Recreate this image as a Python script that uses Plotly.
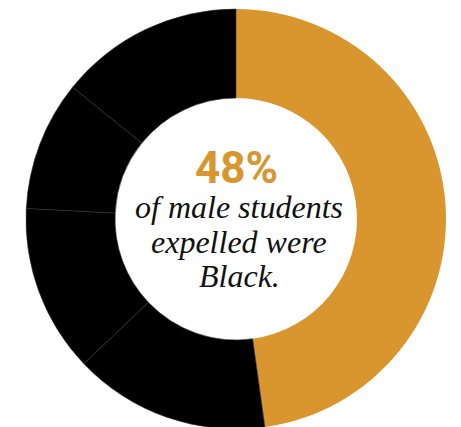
import plotly.graph_objects as go

groups = ["Black", "White", "Hispanic", "Two or more races", "Other"]
shares = [47.8, 15.1, 12.9, 10.0, 14.2]
slice_colors = ["#D9962F", "#000000", "#000000", "#000000", "#000000"]

headline = "48%"
caption_lines = ["of male students", "expelled were", "Black."]

W, H = 461, 427
# page body has an 8px margin, so figure coords = screen coords - 8
cx, cy, R = 228, 211, 210

fig = go.Figure(go.Pie(
    labels=groups,
    values=shares,
    sort=False,
    direction="clockwise",
    rotation=0,
    hole=0.576,
    marker=dict(colors=slice_colors,
                line=dict(color=["#D9962F", "#333333", "#333333", "#333333", "#333333"],
                          width=[0, 0.6, 0.6, 0.6, 0.6])),
    textinfo="none",
    hoverinfo="label+percent",
    showlegend=False,
    domain=dict(x=[(cx - R) / W, (cx + R) / W], y=[1 - (cy + R) / H, 1 - (cy - R) / H]),
))

fig.add_annotation(
    x=cx / W, y=1 - 160 / H, xref="paper", yref="paper", yanchor="middle",
    text="<b>" + headline + "</b>", showarrow=False,
    font=dict(family="Liberation Sans Narrow, Roboto, sans-serif", size=44, color="#D9962F"),
)
for line, yc in zip(caption_lines, [199, 234, 268]):
    fig.add_annotation(
        x=(cx + 3) / W, y=1 - yc / H, xref="paper", yref="paper", yanchor="middle",
        text="<i>" + line + "</i>", showarrow=False,
        font=dict(family="Liberation Serif, serif", size=32, color="#111111"),
    )

fig.update_layout(
    width=W, height=H,
    margin=dict(l=0, r=0, t=0, b=0),
    paper_bgcolor="white", plot_bgcolor="white",
)
fig.write_html("out.html")
